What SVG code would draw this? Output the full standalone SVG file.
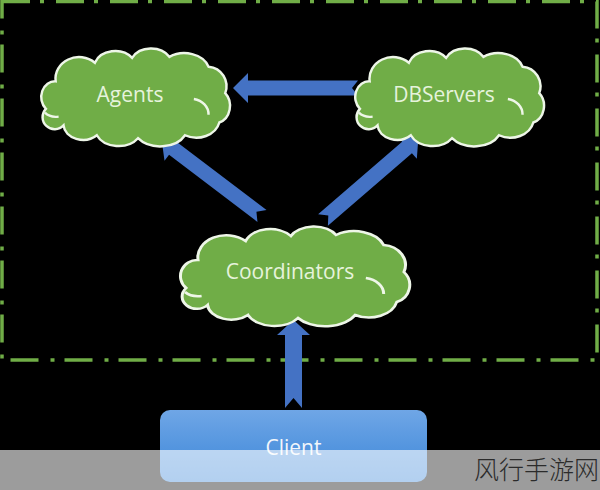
<svg xmlns="http://www.w3.org/2000/svg" width="600" height="490" viewBox="0 0 600 490">
  <defs>
    <style>
      .cloud { fill: #70ad47; stroke: #eef6e8; stroke-width: 2.5; vector-effect: non-scaling-stroke; }
      .curl { fill: none; stroke: #eef6e8; stroke-width: 2.5; vector-effect: non-scaling-stroke; }
      .label { font-family: "Open Sans", "Noto Sans", "Liberation Sans", sans-serif; font-size: 21px; fill: #e6f3dc; text-anchor: middle; }
      .arrow { fill: #4472c4; }
      .border { fill: none; stroke: #70ad47; stroke-width: 3.5; stroke-dasharray: 28 10 4 12; }
    </style>
    <path id="cloudShape" d="M 6,60 A 14,16 0 0 1 16,32 A 24,22 0 0 1 56,13 A 22,18 0 0 1 94,8 A 22,18 0 0 1 132,7 A 26,20 0 0 1 172,17 A 20,20 0 0 1 189,44 A 16,18 0 0 1 183,74 A 24,20 0 0 1 148,87 A 28,20 0 0 1 100,90 A 24,18 0 0 1 58,87 A 20,16 0 0 1 24,77 A 12,12 0 0 1 6,60 Z"/>
    <path id="cloudCurls" d="M 5,64 A 14,10 0 0 0 19,68 M 157,50 A 18,16 0 0 1 172,66"/>
    <linearGradient id="clientGrad" x1="0" y1="0" x2="0" y2="1">
      <stop offset="0" stop-color="#6fa6e6"/>
      <stop offset="1" stop-color="#3b86d8"/>
    </linearGradient>
  </defs>

  <rect x="0" y="0" width="600" height="490" fill="#000"/>

  <rect class="border" x="2" y="1.5" width="595" height="358.5"/>

  <g id="connectors">
    <!-- DBServers -> Agents -->
    <polygon class="arrow" points="0,-7.5 110,-7.5 110,-15 125,0 110,15 110,7.5 0,7.5 6,0" transform="translate(358,88) rotate(180)"/>
    <!-- Coordinators -> Agents -->
    <polygon class="arrow" points="0,-7.5 111,-7.5 111,-15 126,0 111,15 111,7.5 0,7.5 7,0" transform="translate(262,216) rotate(-142.8)"/>
    <!-- Coordinators -> DBServers -->
    <polygon class="arrow" points="0,-7.5 111,-7.5 111,-15 126,0 111,15 111,7.5 0,7.5 7,0" transform="translate(323,220) rotate(-40.8)"/>
    <!-- Client -> Coordinators -->
    <polygon class="arrow" points="0,-8.5 73,-8.5 73,-16.5 88,0 73,16.5 73,8.5 0,8.5 10,0" transform="translate(293.5,408) rotate(-90)"/>
  </g>

  <g id="agents">
    <g transform="translate(40,50) scale(0.98,0.98)">
      <use href="#cloudShape" class="cloud"/>
      <use href="#cloudCurls" class="curl"/>
    </g>
    <text class="label" x="130" y="102">Agents</text>
  </g>

  <g id="dbservers">
    <g transform="translate(354,50) scale(0.98,0.98)">
      <use href="#cloudShape" class="cloud"/>
      <use href="#cloudCurls" class="curl"/>
    </g>
    <text class="label" x="444" y="102">DBServers</text>
  </g>

  <g id="coordinators">
    <g transform="translate(179,228) scale(1.19,1.0)">
      <use href="#cloudShape" class="cloud"/>
      <use href="#cloudCurls" class="curl"/>
    </g>
    <text class="label" x="290" y="279">Coordinators</text>
  </g>

  <g id="client">
    <rect x="160" y="410" width="267" height="72" rx="10" ry="10" fill="url(#clientGrad)"/>
    <text class="label" x="293.5" y="455" style="fill:#f2f6fb">Client</text>
  </g>

  <rect x="0" y="450" width="600" height="40" fill="#ffffff" fill-opacity="0.61"/>
  <text x="599" y="479" text-anchor="end" font-family="'Noto Sans CJK SC', sans-serif" font-size="25" font-weight="300" fill="#2b2b2b">风行手游网</text>
</svg>
